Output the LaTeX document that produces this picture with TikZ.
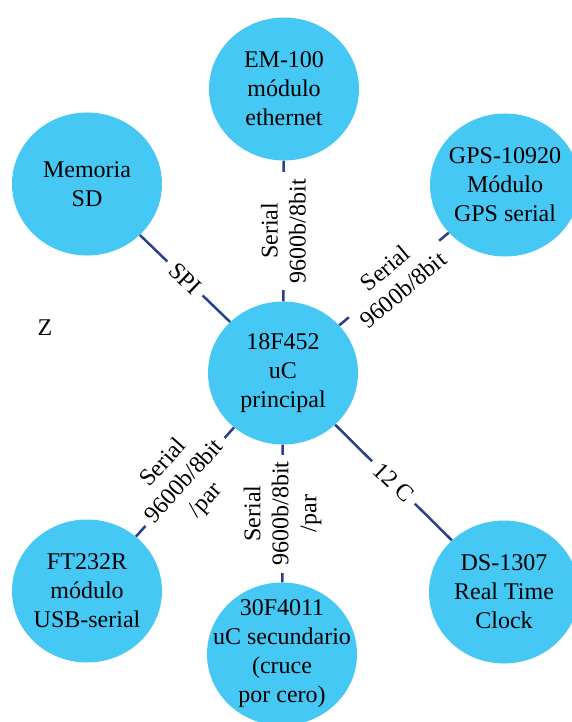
\documentclass[tikz,border=0pt]{standalone}
\usepackage{fontspec}
\setmainfont{Liberation Serif}
\usetikzlibrary{shapes.geometric}
\definecolor{bubblefill}{RGB}{70,200,245}
\definecolor{wire}{RGB}{43,63,142}

\begin{document}
\begin{tikzpicture}[x=1pt,y=-1pt]
        \useasboundingbox (0,0) rectangle (572,722);

        \begin{scope}[every node/.style={ellipse, fill=bubblefill, minimum width=150pt, minimum height=143pt,
            inner sep=0pt},
            every label/.style={fill=none, ellipse=false, minimum width=0pt, minimum height=0pt,
            align=center, font=\fontsize{24}{29}\selectfont}]
          \node[label={center:18F452\\uC\\principal}] (1) at (283,373) {};
          \node[label={center:EM-100\\módulo\\ethernet}] (2) at (284,89) {};
          \node[label={center:Memoria\\SD}] (3) at (87,184) {};
          \node[label={center:GPS-10920\\Módulo\\GPS serial}] (4) at (505,185) {};
          \node[label={center:FT232R\\módulo\\USB-serial}] (5) at (87,591) {};
          \node[label={center:30F4011\\uC secundario\\(cruce\\por cero)}] (6) at (282,654) {};
          \node[label={center:DS-1307\\Real Time\\Clock}] (7) at (504,592) {};
        \end{scope}

        \node[font=\fontsize{24}{29}\selectfont] (z) at (45,328) {Z};

        \begin{scope}[every node/.style={fill=white, inner sep=7pt, align=center,
            font=\fontsize{24}{28}\selectfont}]

          \begin{scope}[every edge/.style={draw=wire, line width=2.5pt}]
            \path (3) edge node[rotate=-44] {SPI} (1);
            \path (2) edge node[rotate=90] {Serial\\9600b/8bit} (1);
            \path (1) edge node[rotate=40] {Serial\\9600b/8bit} (4);
            \path (5) edge node[rotate=48] {Serial\\9600b/8bit\\/par} (1);
            \path (1) edge node[rotate=90] {Serial\\9600b/8bit\\/par} (6);
            \path (1) edge node[rotate=-44] {12 C} (7);
          \end{scope}
        \end{scope}

      \end{tikzpicture}
\end{document}
